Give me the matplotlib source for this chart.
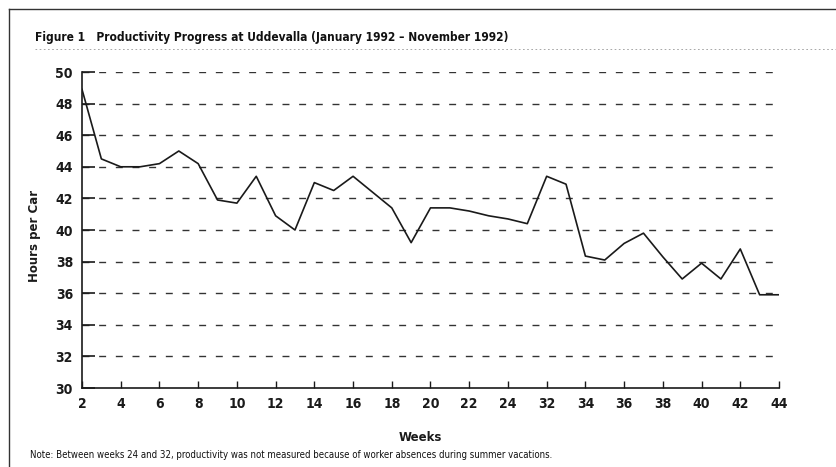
import matplotlib
matplotlib.use("Agg")
import matplotlib.pyplot as plt
from matplotlib.lines import Line2D

# weeks measured (no data for weeks 26-31: summer vacations)
weeks = [2, 3, 4, 5, 6, 7, 8, 9, 10, 11, 12, 13, 14, 15, 16, 17, 18, 19, 20, 21,
         22, 23, 24, 25, 32, 33, 34, 35, 36, 37, 38, 39, 40, 41, 42, 43, 44]
hours = [48.9, 44.5, 44.0, 44.0, 44.2, 45.0, 44.2, 41.9, 41.7, 43.4, 40.9, 40.0,
         43.0, 42.5, 43.4, 42.4, 41.4, 39.2, 41.4, 41.4, 41.2, 40.9, 40.7, 40.4,
         43.4, 42.9, 38.35, 38.1, 39.15, 39.8, 38.3, 36.9, 37.9, 36.9, 38.8, 35.9, 35.9]
tick_weeks = [2, 4, 6, 8, 10, 12, 14, 16, 18, 20, 22, 24, 32, 34, 36, 38, 40, 42, 44]
y_ticks = [30, 32, 34, 36, 38, 40, 42, 44, 46, 48, 50]

GAP = 6  # the axis skips weeks 26-31


def pos(w):
    return w if w <= 25 else w - GAP


COND = dict(family="DejaVu Sans", fontstretch="condensed")
INK = "#1a1a1a"

fig = plt.figure(figsize=(8.37, 4.67), dpi=100)
ax = fig.add_axes([82 / 837, 1 - 388 / 467, 697 / 837, 316 / 467])

ax.plot([pos(w) for w in weeks], hours, color=INK, lw=1.2, zorder=3)

ax.set_xlim(2, pos(44))
ax.set_ylim(30, 50)
ax.set_xticks([pos(w) for w in tick_weeks])
ax.set_xticklabels([str(w) for w in tick_weeks])
ax.set_yticks(y_ticks)

for v in y_ticks[1:]:
    ax.axhline(v, color="#333333", lw=1.0, ls=(0, (5, 7)), zorder=1)

for s in ("top", "right"):
    ax.spines[s].set_visible(False)
for s in ("left", "bottom"):
    ax.spines[s].set_linewidth(1.2)
    ax.spines[s].set_color(INK)

ax.tick_params(axis="y", direction="in", length=9, width=1.2, pad=6.5, colors=INK)
ax.tick_params(axis="x", direction="in", length=5, width=1.0, pad=6.5, colors=INK)
for lab in ax.get_xticklabels() + ax.get_yticklabels():
    lab.set_family("DejaVu Sans")
    lab.set_fontstretch("condensed")
    lab.set_fontsize(10)
    lab.set_fontweight("bold")

ax.set_ylabel("Hours per Car", fontsize=8.5, fontweight="bold", color=INK)
ax.yaxis.set_label_coords((41 - 82) / 697, (388 - 236) / 316)
ax.set_xlabel("Weeks", fontsize=8.5, fontweight="bold", color=INK)
ax.xaxis.set_label_coords((420 - 82) / 697, -0.135)

# frame and title
fig.add_artist(Line2D([9 / 837, 1], [1 - 9 / 467] * 2, color="#333333", lw=1.0,
                      transform=fig.transFigure))
fig.add_artist(Line2D([9 / 837] * 2, [1 - 9 / 467, 0], color="#333333", lw=1.0,
                      transform=fig.transFigure))
fig.add_artist(Line2D([35 / 837, 1], [1 - 49 / 467] * 2, color="#999999", lw=0.6,
                      ls=(0, (2, 3)), transform=fig.transFigure))

fig.text(35 / 837, 1 - 38 / 467,
         "Figure 1   Productivity Progress at Uddevalla (January 1992 \u2013 November 1992)",
         fontsize=8.6, fontweight="bold", color="#111111", va="center", **COND)
fig.text(30 / 837, 1 - 455 / 467,
         "Note: Between weeks 24 and 32, productivity was not measured because of "
         "worker absences during summer vacations.",
         fontsize=6.9, color="#111111", va="center", **COND)

fig.savefig("out.png")
